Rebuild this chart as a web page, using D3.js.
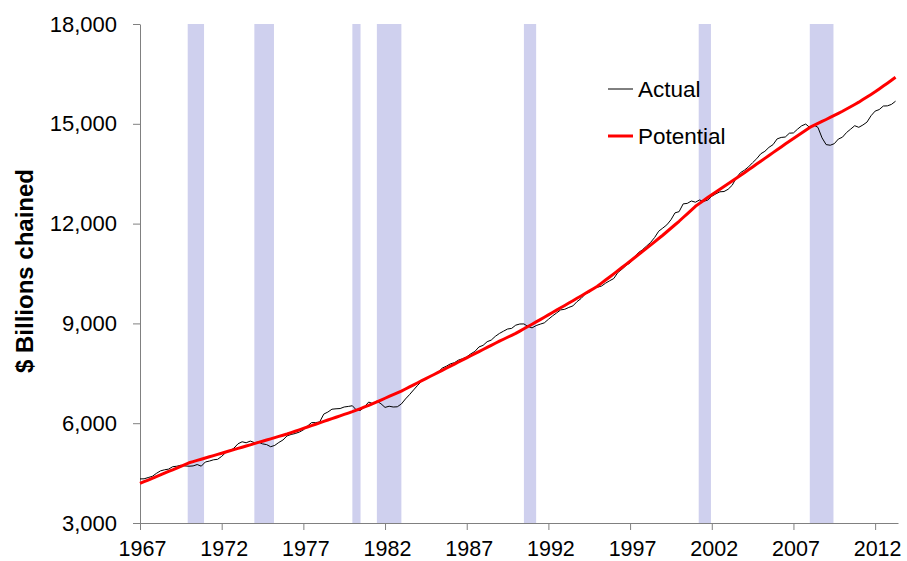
<!DOCTYPE html>
<html lang="en">

<head>
    <meta charset="UTF-8">
    <title>Actual vs Potential GDP</title>
    <script src="https://cdn.jsdelivr.net/npm/d3@7"></script>
    <style>
        body {
            margin: 0;
            background: #fff;
            font-family: "Liberation Sans", Arial, sans-serif;
        }

        .axis text {
            font-size: 22px;
            fill: #000;
        }

        .axis.x-axis text {
            font-size: 21.5px;
        }

        .axis path,
        .axis line {
            stroke: #808080;
        }
    </style>
</head>

<body>
    <svg id="chart" width="907" height="561"></svg>

    <script>
        // quarterly series, 1967Q1 .. 2013Q2
        const startYear = 1967;

        const actual = [
            4324.9, 4328.7, 4366.1, 4401.2,
            4490.6, 4566.4, 4599.3, 4619.8,
            4691.6, 4706.7, 4736.1, 4715.5,
            4707.1, 4715.4, 4757.2, 4708.3,
            4834.3, 4861.9, 4900.0, 4914.3,
            5002.4, 5118.3, 5165.4, 5251.2,
            5380.5, 5441.5, 5411.9, 5462.4,
            5417.0, 5431.3, 5378.7, 5357.2,
            5292.4, 5333.2, 5421.4, 5494.4,
            5618.5, 5661.0, 5689.8, 5732.5,
            5799.2, 5913.0, 6017.6, 6018.2,
            6039.2, 6274.0, 6335.3, 6420.3,
            6433.0, 6440.8, 6487.1, 6503.9,
            6524.9, 6392.6, 6382.9, 6501.2,
            6635.7, 6587.3, 6662.9, 6585.1,
            6475.0, 6510.2, 6486.8, 6493.1,
            6578.2, 6728.3, 6860.0, 7001.5,
            7140.6, 7266.0, 7337.5, 7396.0,
            7469.5, 7537.9, 7655.2, 7712.6,
            7784.1, 7819.8, 7898.6, 7939.5,
            7995.0, 8084.7, 8158.0, 8292.7,
            8339.3, 8449.5, 8498.3, 8610.9,
            8697.7, 8766.1, 8831.5, 8850.2,
            8947.1, 8981.7, 8983.9, 8907.4,
            8865.6, 8934.4, 8977.3, 9016.4,
            9123.0, 9223.5, 9313.2, 9406.5,
            9424.1, 9480.1, 9526.3, 9653.5,
            9748.2, 9881.4, 9939.7, 10052.5,
            10086.9, 10122.1, 10208.8, 10281.2,
            10348.7, 10529.4, 10626.8, 10739.1,
            10820.9, 10984.2, 11124.0, 11210.3,
            11321.2, 11431.0, 11580.6, 11770.7,
            11864.7, 11962.5, 12113.1, 12323.3,
            12359.1, 12592.5, 12607.7, 12679.3,
            12643.3, 12710.3, 12670.1, 12705.3,
            12822.3, 12893.0, 12955.8, 12964.0,
            13031.2, 13152.1, 13372.4, 13528.7,
            13606.5, 13706.2, 13830.8, 13950.4,
            14099.1, 14172.7, 14291.8, 14373.4,
            14546.1, 14589.6, 14602.6, 14716.9,
            14726.0, 14838.7, 14938.5, 14991.8,
            14889.5, 14963.4, 14891.6, 14577.0,
            14375.0, 14355.6, 14402.5, 14541.9,
            14597.7, 14738.0, 14839.3, 14942.4,
            14894.0, 14963.6, 15050.0, 15242.1,
            15381.6, 15427.7, 15534.0, 15539.6,
            15583.9, 15679.7
        ];

        const potential = [
            4190, 4241, 4292, 4344,
            4395, 4446, 4498, 4549,
            4600, 4653, 4705, 4758,
            4810, 4846, 4882, 4918,
            4954, 4990, 5026, 5062,
            5098, 5134, 5170, 5206,
            5242, 5278, 5314, 5350,
            5386, 5422, 5458, 5494,
            5530, 5566, 5603, 5639,
            5675, 5717, 5759, 5801,
            5843, 5885, 5927, 5969,
            6011, 6053, 6095, 6137,
            6179, 6221, 6263, 6305,
            6347, 6394, 6441, 6488,
            6535, 6589, 6643, 6696,
            6750, 6804, 6858, 6911,
            6965, 7028, 7090, 7153,
            7215, 7278, 7340, 7403,
            7465, 7528, 7590, 7653,
            7715, 7778, 7840, 7903,
            7965, 8028, 8090, 8153,
            8215, 8278, 8340, 8403,
            8465, 8524, 8583, 8641,
            8700, 8769, 8838, 8906,
            8975, 9045, 9115, 9185,
            9255, 9326, 9398, 9469,
            9540, 9611, 9683, 9754,
            9825, 9898, 9970, 10043,
            10115, 10209, 10303, 10396,
            10490, 10585, 10680, 10775,
            10870, 10966, 11063, 11159,
            11255, 11354, 11453, 11551,
            11650, 11755, 11860, 11965,
            12070, 12183, 12295, 12408,
            12520, 12608, 12695, 12783,
            12870, 12953, 13035, 13118,
            13200, 13283, 13365, 13448,
            13530, 13616, 13703, 13789,
            13875, 13961, 14048, 14134,
            14220, 14305, 14390, 14475,
            14560, 14643, 14725, 14808,
            14890, 14950, 15010, 15070,
            15130, 15192, 15254, 15316,
            15378, 15446, 15514, 15582,
            15650, 15728, 15806, 15884,
            15962, 16048, 16134, 16220,
            16310, 16400
        ];

        // recession periods (start, end) in decimal years
        const recessionStart = [1969.92, 1974.0, 1980.0, 1981.5, 1990.5, 2001.2, 2008.0];
        const recessionEnd = [1970.92, 1975.2, 1980.5, 1983.0, 1991.25, 2001.95, 2009.45];

        const xTickYears = [1967, 1972, 1977, 1982, 1987, 1992, 1997, 2002, 2007, 2012];
        const yTickValues = [3000, 6000, 9000, 12000, 15000, 18000];

        const seriesNames = ["Actual", "Potential"];
        const seriesColors = ["#000000", "#ff0000"];
        const seriesWidths = [1, 3];

        const svg = d3.select("#chart");
        const plotLeft = 140, plotRight = 898, plotTop = 24, plotBottom = 523;

        const x = d3.scaleLinear().domain([1967, 2013.4]).range([plotLeft, plotRight]);
        const y = d3.scaleLinear().domain([3000, 18000]).range([plotBottom, plotTop]);

        const dateOf = i => startYear + i / 4;

        // recession shading
        svg.append("g")
            .selectAll("rect")
            .data(recessionStart)
            .enter()
            .append("rect")
            .attr("x", (d, i) => x(d))
            .attr("width", (d, i) => x(recessionEnd[i]) - x(d))
            .attr("y", y(18000))
            .attr("height", y(3000) - y(18000))
            .attr("fill", "#cfd0ee");

        // axes
        svg.append("g")
            .attr("class", "axis")
            .attr("transform", `translate(${plotLeft},0)`)
            .call(d3.axisLeft(y)
                .tickValues(yTickValues)
                .tickFormat(d3.format(","))
                .tickSize(7)
                .tickSizeOuter(0)
                .tickPadding(16));

        svg.append("g")
            .attr("class", "axis x-axis")
            .attr("transform", `translate(0,${plotBottom})`)
            .call(d3.axisBottom(x)
                .tickValues(xTickYears)
                .tickFormat(d3.format("d"))
                .tickSize(7)
                .tickSizeOuter(0)
                .tickPadding(11))
            .selectAll("text")
            .attr("dx", "2");

        // y title
        svg.append("text")
            .attr("transform", "translate(33,271) rotate(-90)")
            .attr("text-anchor", "middle")
            .style("font-size", "24px")
            .style("font-weight", "bold")
            .text("$ Billions chained");

        // lines
        const line = d3.line()
            .x((d, i) => x(dateOf(i)))
            .y(d => y(d));

        [actual, potential].forEach((series, k) => {
            svg.append("path")
                .datum(series)
                .attr("fill", "none")
                .attr("stroke", seriesColors[k])
                .attr("stroke-width", seriesWidths[k])
                .attr("stroke-linejoin", "round")
                .attr("d", line);
        });

        // legend
        const legend = svg.append("g").attr("transform", "translate(608,89)");
        seriesNames.forEach((name, k) => {
            const g = legend.append("g").attr("transform", `translate(0,${k * 47})`);
            g.append("line")
                .attr("x1", 0).attr("x2", 25)
                .attr("stroke", seriesColors[k])
                .attr("stroke-width", seriesWidths[k]);
            g.append("text")
                .attr("x", 30)
                .attr("dy", "0.35em")
                .style("font-size", "22.5px")
                .text(name);
        });
    </script>
</body>

</html>
